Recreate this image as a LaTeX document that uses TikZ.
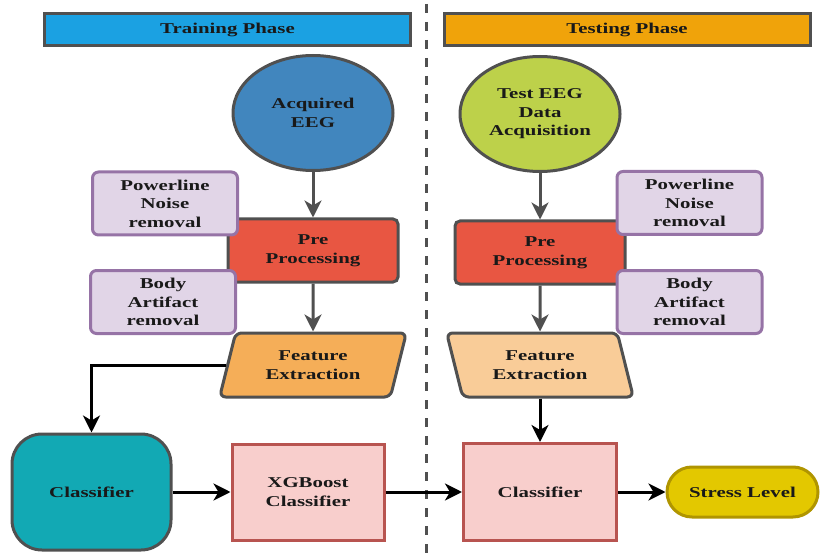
\documentclass[tikz,border=0pt]{standalone}
\usepackage{fontspec}
\setmainfont{Liberation Serif}[FakeStretch=1.39]
\usetikzlibrary{arrows.meta,positioning,shapes.geometric}
\definecolor{edge}{HTML}{505050}
\definecolor{trainblue}{HTML}{1BA1E2}
\definecolor{testorange}{HTML}{F0A30A}
\definecolor{eegblue}{HTML}{4186BE}
\definecolor{eeggreen}{HTML}{BDD14A}
\definecolor{prered}{HTML}{E85642}
\definecolor{lilac}{HTML}{E1D5E7}
\definecolor{lilacedge}{HTML}{9673A6}
\definecolor{featdark}{HTML}{F5AE58}
\definecolor{featlight}{HTML}{F9CC98}
\definecolor{teal}{HTML}{12A9B4}
\definecolor{pink}{HTML}{F8CECC}
\definecolor{pinkedge}{HTML}{B85450}
\definecolor{gold}{HTML}{E3C800}
\definecolor{goldedge}{HTML}{B09500}

\begin{document}
\begin{tikzpicture}
    [x=1pt,y=-1pt,font=\fontsize{15}{18.5}\selectfont\bfseries,
    every node/.style={align=center,inner sep=0pt,line width=3pt,text=black!90},
    phase/.style={draw=edge,minimum width=366pt,minimum height=32pt},
    source/.style={ellipse,draw=edge,minimum width=160pt,minimum height=115pt},
    prestep/.style={draw=edge,fill=prered,rounded corners=5pt,minimum width=170pt,minimum height=63pt},
    subtask/.style={draw=lilacedge,fill=lilac,rounded corners=6pt,minimum width=145pt,minimum height=63pt},
    feature/.style={trapezium,trapezium stretches,draw=edge,rounded corners=6pt,minimum width=187pt,minimum height=64pt},
    model/.style={draw=pinkedge,fill=pink,minimum width=153pt,minimum height=97pt},
    grayflow/.style={->,>={Stealth[length=17pt,width=17pt,inset=5pt]},draw=edge,line width=3pt},
    flow/.style={->,>={Stealth[length=17pt,width=17pt,inset=5pt]},draw=black,line width=3pt}]

    \useasboundingbox (0,0) rectangle (821,553);
    \draw[edge,line width=3pt,dash pattern=on 9pt off 9pt] (426,4) -- (426,553);

    \node[phase,fill=trainblue] (training) at (227.5,30) {Training Phase};
    \node[phase,fill=testorange] (testing) at (627,30) {Testing Phase};

    % training side
    \node[source,fill=eegblue] (acq) at (313,113) {Acquired\\EEG};
    \node[prestep] (pre) at (313,250.5) {Pre\\Processing};
    \node[subtask] (noise) at (165,203.5) {Powerline\\Noise\\removal};
    \node[subtask] (artifact) at (163,302) {Body\\Artifact\\removal};
    \node[feature,fill=featdark,trapezium left angle=71,trapezium right angle=109] (feat) at (313,365) {Feature\\Extraction};
    \node[draw=edge,fill=teal,rounded corners=30pt,minimum width=159pt,minimum height=116pt] (cls) at (91.5,492) {Classifier};
    \node[model,minimum width=152pt,minimum height=96pt] (xgb) at (308,492) {XGBoost\\Classifier};

    % testing side
    \node[source,fill=eeggreen] (test) at (540,114) {Test EEG\\Data\\Acquisition};
    \node[prestep] (tpre) at (540,252.5) {Pre\\Processing};
    \node[subtask] (tnoise) at (689.5,203) {Powerline\\Noise\\removal};
    \node[subtask] (tartifact) at (689.5,302) {Body\\Artifact\\removal};
    \node[feature,fill=featlight,trapezium left angle=109,trapezium right angle=71] (tfeat) at (540,365) {Feature\\Extraction};
    \node[model] (tcls) at (540,492) {Classifier};
    \node[draw=goldedge,fill=gold,rounded corners=25pt,minimum width=151pt,minimum height=50pt] (stress) at (742.5,492) {Stress Level};

    \path[grayflow] (acq) -- (pre);
    \path[grayflow] (pre) -- (feat);
    \path[grayflow] (test) -- (tpre);
    \path[grayflow] (tpre) -- (tfeat);
    \path[flow] (feat.west) -| (cls.north);
    \path[flow] (cls) -- (xgb);
    \path[flow] (xgb) -- (tcls);
    \path[flow] (tfeat) -- (tcls);
    \path[flow] (tcls) -- (stress);
\end{tikzpicture}
\end{document}
